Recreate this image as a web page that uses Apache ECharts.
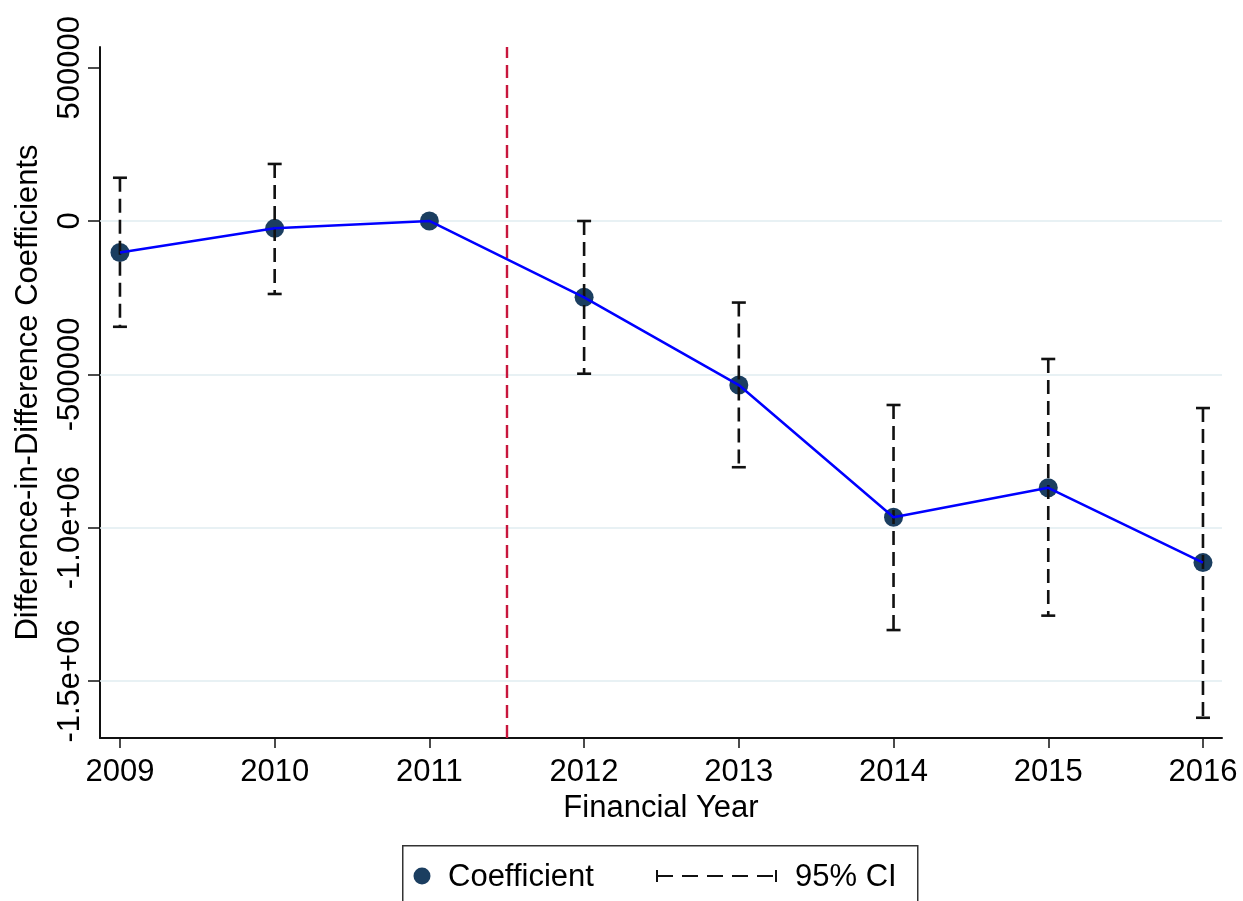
<!DOCTYPE html>
<html lang="en">
<head>
    <meta charset="UTF-8">
    <title>Difference-in-Difference Coefficients</title>
    <script src="https://cdn.jsdelivr.net/npm/echarts@6/dist/echarts.min.js"></script>
    <style>
        html, body { margin: 0; padding: 0; background: #fff; }
        #main { width: 1243px; height: 901px; }
    </style>
</head>
<body>
<div id="main"></div>
<script>
    // data
    const years = [2009, 2010, 2011, 2012, 2013, 2014, 2015, 2016];
    const coef = [-103000, -24000, 0, -249000, -535000, -966000, -870000, -1114000];
    const ciLower = [-345000, -238000, null, -498000, -803000, -1334000, -1287000, -1620000];
    const ciUpper = [141000, 186000, null, 0, -266000, -600000, -450000, -610000];
    const yTicks = [500000, 0, -500000, -1000000, -1500000];
    const yTickLabels = ['500000', '0', '-500000', '-1.0e+06', '-1.5e+06'];
    const gridValues = [0, -500000, -1000000, -1500000];
    const treatYear = 2011.5;

    const FONT = 'Liberation Sans';
    const navy = '#1b3e60';

    let myChart = echarts.init(document.getElementById('main'));

    let pointData = years.map((y, i) => [y, coef[i]]);
    let ciData = [];
    for (let i = 0; i < years.length; i++) {
        if (ciLower[i] === null) continue;
        ciData.push([years[i], ciLower[i], ciUpper[i]]);
    }

    function renderCI(params, api) {
        let top = api.coord([api.value(0), api.value(2)]);
        let bot = api.coord([api.value(0), api.value(1)]);
        let capW = 7;
        let st = {stroke: '#111', lineWidth: 2.6};
        return {
            type: 'group',
            children: [
                {type: 'line', shape: {x1: top[0], y1: top[1], x2: bot[0], y2: bot[1]},
                    style: Object.assign({lineDash: [14, 7]}, st)},
                {type: 'line', shape: {x1: top[0] - capW, y1: top[1], x2: top[0] + capW, y2: top[1]}, style: st},
                {type: 'line', shape: {x1: bot[0] - capW, y1: bot[1], x2: bot[0] + capW, y2: bot[1]}, style: st}
            ]
        };
    }

    let option = {
        animation: false,
        backgroundColor: '#fff',
        textStyle: {fontFamily: FONT},
        grid: {left: 100, right: 21, top: 47, bottom: 163},
        xAxis: {
            type: 'value',
            min: 2008.871,
            max: 2016.123,
            name: 'Financial Year',
            nameLocation: 'middle',
            nameGap: 55,
            nameTextStyle: {fontSize: 31, color: '#000', fontFamily: FONT},
            axisLine: {show: true, onZero: false, lineStyle: {color: '#111', width: 2}},
            axisTick: {show: true, customValues: years, length: 10, lineStyle: {color: '#111', width: 1.5}},
            axisLabel: {
                customValues: years, fontSize: 31, color: '#000', margin: 19, fontFamily: FONT,
                formatter: v => String(v)
            },
            splitLine: {show: false}
        },
        yAxis: {
            type: 'value',
            min: -1686000,
            max: 567400,
            name: 'Difference-in-Difference Coefficients',
            nameLocation: 'middle',
            nameGap: 56,
            nameRotate: 90,
            nameTextStyle: {fontSize: 31, color: '#000', fontFamily: FONT},
            axisLine: {show: true, onZero: false, lineStyle: {color: '#111', width: 2}},
            axisTick: {show: true, customValues: yTicks, length: 12, lineStyle: {color: '#111', width: 1.5}},
            axisLabel: {
                customValues: yTicks, rotate: 90, fontSize: 31, color: '#000', margin: 14, fontFamily: FONT,
                formatter: v => {
                    let k = yTicks.indexOf(v);
                    return k >= 0 ? yTickLabels[k] : '';
                }
            },
            splitLine: {show: false}
        },
        series: [
            {
                name: 'Coefficient',
                type: 'scatter',
                z: 2,
                symbol: 'circle',
                symbolSize: 19,
                itemStyle: {color: navy, opacity: 1},
                data: pointData,
                markLine: {
                    silent: true,
                    symbol: 'none',
                    label: {show: false},
                    z: 1,
                    lineStyle: {type: 'solid', color: '#e1edf0', width: 1.6},
                    data: gridValues.map(v => ({yAxis: v})).concat([{
                        xAxis: treatYear,
                        lineStyle: {type: [13, 7], color: '#c8163c', width: 2.4}
                    }])
                }
            },
            {
                name: '95% CI',
                type: 'custom',
                z: 3,
                renderItem: renderCI,
                data: ciData
            },
            {
                name: 'line',
                type: 'line',
                z: 4,
                showSymbol: false,
                lineStyle: {color: '#0000ff', width: 2.5},
                data: pointData
            }
        ],
        graphic: [
            {type: 'rect', left: 402, top: 845, shape: {width: 515, height: 80},
                style: {fill: '#fff', stroke: '#333', lineWidth: 1.5}},
            {type: 'circle', shape: {cx: 422, cy: 876, r: 8.5}, style: {fill: navy}},
            {type: 'text', x: 448, y: 877, style: {text: 'Coefficient', fontSize: 31, fontFamily: FONT, fill: '#000', verticalAlign: 'middle'}},
            {type: 'line', shape: {x1: 657, y1: 876, x2: 776, y2: 876}, style: {stroke: '#111', lineWidth: 2.2, lineDash: [16, 9]}},
            {type: 'line', shape: {x1: 657, y1: 870, x2: 657, y2: 882}, style: {stroke: '#111', lineWidth: 2}},
            {type: 'line', shape: {x1: 776, y1: 870, x2: 776, y2: 882}, style: {stroke: '#111', lineWidth: 2}},
            {type: 'text', x: 795, y: 877, style: {text: '95% CI', fontSize: 31, fontFamily: FONT, fill: '#000', verticalAlign: 'middle'}}
        ]
    };

    myChart.setOption(option);
</script>
</body>
</html>
